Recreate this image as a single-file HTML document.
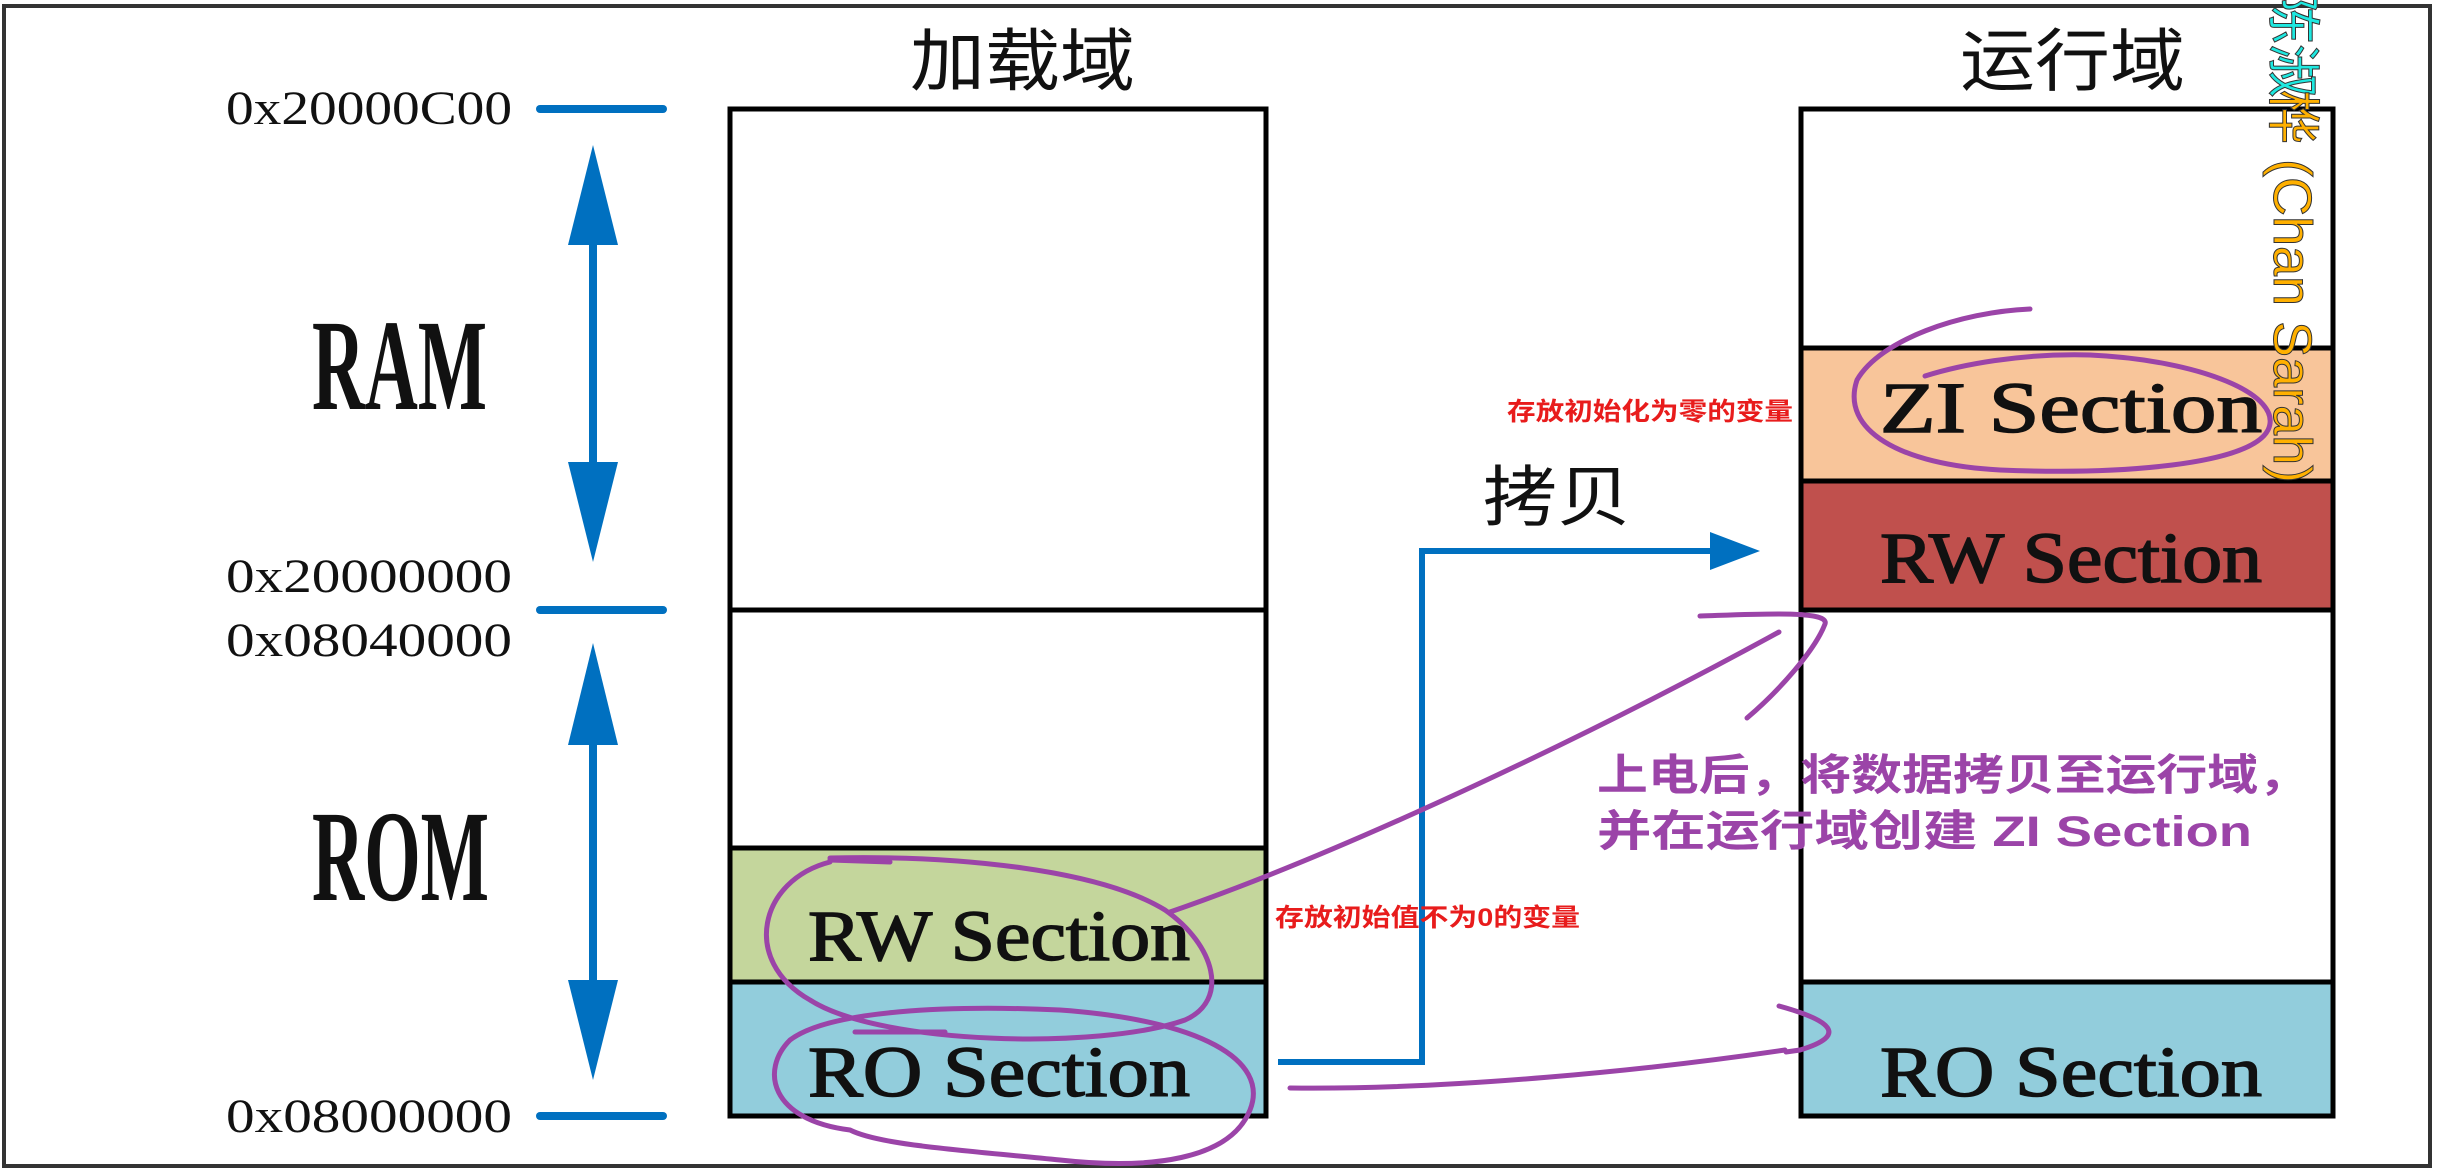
<!DOCTYPE html>
<html><head><meta charset="utf-8"><style>
html,body{margin:0;padding:0;background:#fff;width:2443px;height:1171px;overflow:hidden}
svg{display:block}
.mono{font-family:"Liberation Mono","Noto Sans CJK SC",monospace;font-weight:bold}
.cjk{font-family:"Liberation Sans","Noto Sans CJK SC",sans-serif}
</style></head><body>
<svg width="2443" height="1171" viewBox="0 0 2443 1171" xmlns="http://www.w3.org/2000/svg">
<rect x="4" y="6" width="2426" height="1160" fill="#fff" stroke="#333" stroke-width="4"/>
<g font-family="Liberation Serif, serif" font-size="48" fill="#111">
<text x="226" y="124" textLength="286" lengthAdjust="spacingAndGlyphs">0x20000C00</text>
<text x="226" y="592" textLength="286" lengthAdjust="spacingAndGlyphs">0x20000000</text>
<text x="226" y="656" textLength="286" lengthAdjust="spacingAndGlyphs">0x08040000</text>
<text x="226" y="1132" textLength="286" lengthAdjust="spacingAndGlyphs">0x08000000</text>
</g>
<g stroke="#0070c0" stroke-width="8" stroke-linecap="round">
<line x1="540" y1="109" x2="663" y2="109"/>
<line x1="540" y1="610" x2="663" y2="610"/>
<line x1="540" y1="1116" x2="663" y2="1116"/>
<line x1="593" y1="220" x2="593" y2="500"/>
<line x1="593" y1="720" x2="593" y2="1010"/>
</g>
<g fill="#0070c0">
<polygon points="593,145 568,245 618,245"/>
<polygon points="593,562 568,462 618,462"/>
<polygon points="593,643 568,745 618,745"/>
<polygon points="593,1080 568,980 618,980"/>
</g>
<g font-family="Liberation Serif, serif" font-size="130" font-weight="bold" fill="#111">
<text x="312" y="409" textLength="175" lengthAdjust="spacingAndGlyphs">RAM</text>
<text x="312" y="900" textLength="177" lengthAdjust="spacingAndGlyphs">ROM</text>
</g>
<text class="cjk" x="910" y="85" font-size="68" fill="#111" textLength="225" lengthAdjust="spacingAndGlyphs">加载域</text>
<text class="cjk" x="1960" y="85" font-size="68" fill="#111" textLength="225" lengthAdjust="spacingAndGlyphs">运行域</text>
<g stroke="#000" stroke-width="5">
<rect x="730" y="109" width="536" height="501" fill="#fff"/>
<rect x="730" y="610" width="536" height="238" fill="#fff"/>
<rect x="730" y="848" width="536" height="134" fill="#c4d69c"/>
<rect x="730" y="982" width="536" height="134" fill="#92cddc"/>
</g>
<g stroke="#000" stroke-width="5">
<rect x="1801" y="109" width="532" height="239" fill="#fff"/>
<rect x="1801" y="348" width="532" height="133" fill="#f8c59a"/>
<rect x="1801" y="481" width="532" height="129" fill="#c0504d"/>
<rect x="1801" y="610" width="532" height="372" fill="#fff"/>
<rect x="1801" y="982" width="532" height="134" fill="#92cddc"/>
</g>
<g font-family="Liberation Serif, serif" font-size="72" fill="#111" stroke="#111" stroke-width="1.5">
<text x="808" y="960" textLength="382" lengthAdjust="spacingAndGlyphs">RW Section</text>
<text x="808" y="1096" textLength="382" lengthAdjust="spacingAndGlyphs">RO Section</text>
<text x="1880" y="432" textLength="382" lengthAdjust="spacingAndGlyphs">ZI Section</text>
<text x="1880" y="582" textLength="382" lengthAdjust="spacingAndGlyphs">RW Section</text>
<text x="1880" y="1096" textLength="382" lengthAdjust="spacingAndGlyphs">RO Section</text>
</g>
<polyline points="1278,1062 1422,1062 1422,551 1715,551" fill="none" stroke="#0070c0" stroke-width="6"/>
<polygon points="1760,551 1710,532 1710,570" fill="#0070c0"/>
<text class="cjk" x="1483" y="520" font-size="66" fill="#111" textLength="148" lengthAdjust="spacingAndGlyphs">拷贝</text>
<g class="cjk" font-size="25" font-weight="bold" fill="#e81c1c">
<text x="1507" y="420" textLength="286" lengthAdjust="spacingAndGlyphs">存放初始化为零的变量</text>
<text x="1275" y="926" textLength="305" lengthAdjust="spacingAndGlyphs">存放初始值不为0的变量</text>
</g>
<g class="cjk" font-size="43" font-weight="bold" fill="#9b44a8">
<text x="1597" y="790" textLength="712" lengthAdjust="spacingAndGlyphs">上电后，将数据拷贝至运行域，</text>
<text x="1597" y="846" textLength="655" lengthAdjust="spacingAndGlyphs">并在运行域创建 ZI Section</text>
</g>
<g fill="none" stroke="#9b44a8" stroke-width="5" stroke-linecap="round">
<path d="M830,862 C760,880 740,960 810,1000 C880,1045 1100,1050 1185,1020 C1230,1000 1215,945 1165,910 C1100,870 960,855 830,858"/>
<path d="M830,860 L890,862"/>
<path d="M850,1130 C770,1120 760,1070 790,1040 C830,1010 950,1005 1060,1010 C1200,1020 1270,1060 1250,1110 C1230,1160 1150,1170 1060,1160 C960,1150 880,1145 850,1130"/>
<path d="M855,1032 L945,1032"/>
<path d="M1170,912 C1350,850 1600,730 1779,632"/>
<path d="M1700,616 C1760,614 1830,610 1825,624 C1815,650 1780,690 1747,718"/>
<path d="M1290,1088 C1450,1090 1650,1070 1785,1050"/>
<path d="M1779,1006 C1830,1020 1850,1035 1800,1050 L1786,1052"/>
<path d="M2030,309 C1960,312 1880,340 1857,380 C1840,430 1900,465 2000,470 C2120,475 2250,465 2268,430 C2285,395 2200,360 2090,355 C2020,353 1960,365 1925,376"/>
</g>
<g font-family="Liberation Sans, Noto Sans CJK SC, sans-serif" font-size="54" stroke="#333" stroke-width="1">
<text transform="translate(2274,0) rotate(90)" x="-10" y="0" fill="#1ee8e0">陈淑</text>
<text transform="translate(2274,0) rotate(90)" x="90" y="0" fill="#ffb000">桦 (Chan Sarah)</text>
</g>
</svg>
</body></html>
